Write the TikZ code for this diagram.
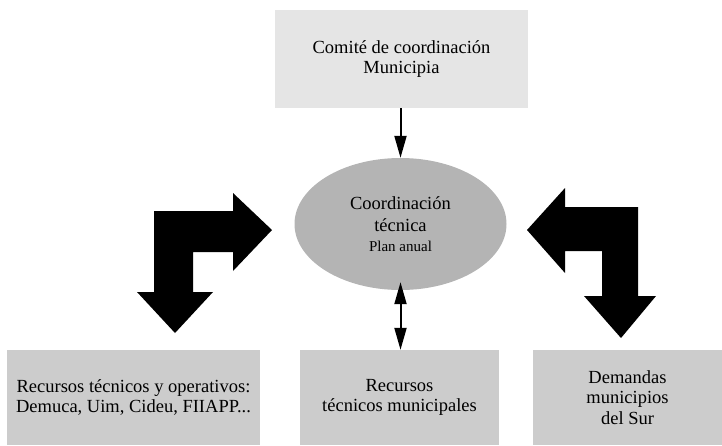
\documentclass[tikz,border=0pt]{standalone}
\usepackage{fontspec}
\setmainfont{Liberation Serif}
\usetikzlibrary{arrows.meta,shapes.geometric}
\definecolor{topgray}{RGB}{229,229,229}
\definecolor{boxgray}{RGB}{204,204,204}
\definecolor{ellgray}{RGB}{180,180,180}
\tikzset{
  txt/.style={font=\rmfamily\fontsize{18.5}{20.5}\selectfont, align=center, text=black},
  topbox/.style={txt, fill=topgray, draw=none, inner sep=0pt},
  lowbox/.style={txt, fill=boxgray, draw=none, inner sep=0pt, minimum height=95pt},
  ellnode/.style={txt, font=\rmfamily\fontsize{18.5}{22}\selectfont, ellipse, fill=ellgray, draw=none, inner sep=0pt, minimum width=212pt, minimum height=132pt},
  thinarrow/.style={line width=2pt, -{Triangle[length=22pt,width=12pt]}},
  dblarrow/.style={line width=2pt, {Triangle[length=22pt,width=12pt]}-{Triangle[length=22pt,width=12pt]}},
  blockarrow/.style={fill=black, draw=none}
}
\begin{document}
\begin{tikzpicture}[x=1pt,y=-1pt]
\useasboundingbox (0,0) rectangle (722,445);
\node[topbox, minimum width=253pt, minimum height=98pt] (top) at (401.5,59) {Comité de coordinación\\Municipia};
\node[ellnode] (ell) at (400.5,224) {Coordinación\\técnica\\[-2pt]{\fontsize{15}{17}\selectfont Plan anual}};
\node[lowbox, minimum width=253pt] (left) at (133.5,397.5) {Recursos técnicos y operativos:\\Demuca, Uim, Cideu, FIIAPP...};
\node[lowbox, minimum width=199pt] (mid) at (399.5,397.5) {Recursos\\técnicos municipales};
\node[lowbox, minimum width=189pt] (right) at (627.5,397.5) {Demandas\\municipios\\del Sur};
\draw[thinarrow] (top.south -| ell.north) -- (ell.north);
\draw[dblarrow, shorten <=-8pt] (ell.south) -- (ell.south |- mid.north);
% left L-shaped block arrow
\fill[blockarrow] (154,211) -- (233,211) -- (233,193) -- (272,230) -- (233,271) -- (233,252)
  -- (193,252) -- (193,292) -- (213,292) -- (175,333) -- (137,292) -- (154,292) -- cycle;
% right L-shaped block arrow
\fill[blockarrow] (638,207) -- (565,207) -- (565,188) -- (527,230) -- (565,273) -- (565,251)
  -- (602,251) -- (602,296) -- (584,296) -- (621,338) -- (656,296) -- (638,296) -- cycle;
\end{tikzpicture}
\end{document}
